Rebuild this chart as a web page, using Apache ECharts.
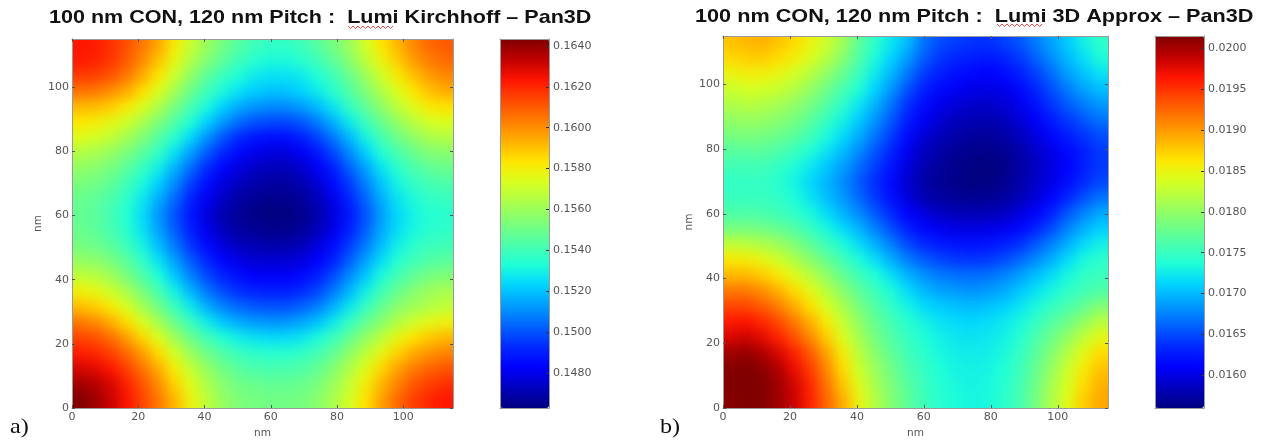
<!DOCTYPE html>
<html><head><meta charset="utf-8">
<style>html,body{margin:0;padding:0;background:#fff}#c{width:1267px;height:445px}</style>
<script src="https://cdn.jsdelivr.net/npm/echarts@6/dist/echarts.min.js"></script>
</head><body><div id="c"></div>
<script>
// cell centres in nm, read left to right and top to bottom
var cellX = [2.4,7.2,12,16.8,21.6,26.4,31.2,36,40.8,45.6,50.4,55.2,60,64.8,69.6,74.4,79.2,84,88.8,93.6,98.4,103.2,108,112.8];
var cellY = [112.8,108,103.2,98.4,93.6,88.8,84,79.2,74.4,69.6,64.8,60,55.2,50.4,45.6,40.8,36,31.2,26.4,21.6,16.8,12,7.2,2.4];
var cellHalf = 2.4;

// panel a, in units of 0.0001
var valuesA = [
[1623,1622,1618,1612,1604,1595,1582,1570,1560,1552,1545,1540,1537,1537,1540,1545,1552,1560,1572,1583,1592,1601,1607,1610],
[1622,1621,1617,1610,1601,1590,1577,1565,1555,1547,1540,1535,1532,1532,1535,1540,1547,1556,1567,1578,1588,1597,1603,1607],
[1616,1615,1611,1604,1594,1583,1570,1558,1547,1539,1533,1528,1526,1526,1528,1533,1540,1549,1560,1571,1581,1590,1597,1601],
[1605,1604,1600,1594,1585,1574,1562,1550,1540,1532,1526,1522,1520,1520,1523,1528,1535,1544,1554,1564,1574,1583,1590,1594],
[1592,1591,1588,1582,1574,1564,1553,1542,1532,1523,1516,1512,1510,1510,1513,1519,1527,1537,1547,1557,1567,1575,1582,1584],
[1583,1581,1577,1571,1563,1554,1544,1534,1523,1513,1505,1500,1498,1498,1501,1508,1517,1528,1539,1549,1558,1566,1572,1574],
[1575,1572,1568,1562,1554,1545,1535,1524,1512,1501,1493,1488,1486,1486,1490,1497,1507,1518,1530,1541,1550,1557,1563,1565],
[1565,1563,1559,1553,1546,1537,1526,1514,1502,1492,1485,1480,1478,1478,1481,1488,1498,1510,1522,1533,1542,1549,1554,1556],
[1558,1556,1552,1546,1538,1529,1517,1505,1493,1484,1478,1474,1472,1472,1475,1481,1490,1502,1514,1526,1535,1542,1547,1549],
[1553,1551,1547,1540,1532,1522,1510,1497,1486,1478,1473,1470,1468,1468,1471,1476,1485,1496,1508,1520,1530,1537,1541,1543],
[1549,1547,1543,1536,1527,1516,1504,1491,1481,1474,1469,1466,1465,1465,1467,1472,1480,1491,1503,1516,1526,1532,1537,1538],
[1548,1546,1541,1534,1525,1512,1500,1488,1478,1471,1467,1464,1463,1463,1465,1470,1478,1488,1500,1513,1524,1530,1534,1535],
[1549,1547,1542,1535,1526,1514,1502,1490,1480,1473,1468,1466,1465,1465,1467,1472,1480,1490,1502,1515,1525,1531,1535,1536],
[1552,1550,1546,1539,1530,1519,1507,1495,1485,1478,1473,1471,1470,1470,1472,1477,1485,1496,1507,1519,1529,1535,1539,1540],
[1559,1557,1553,1546,1537,1526,1514,1502,1492,1484,1479,1476,1476,1476,1478,1483,1491,1502,1514,1525,1534,1540,1544,1546],
[1568,1566,1561,1553,1544,1533,1521,1509,1499,1491,1486,1483,1482,1482,1485,1490,1499,1510,1521,1532,1541,1547,1552,1554],
[1580,1577,1571,1563,1553,1542,1530,1518,1507,1499,1494,1491,1490,1490,1493,1498,1507,1518,1529,1540,1549,1555,1560,1563],
[1591,1588,1582,1573,1562,1551,1539,1528,1517,1509,1504,1501,1500,1500,1503,1508,1517,1527,1538,1548,1556,1561,1565,1568],
[1604,1601,1594,1585,1574,1562,1550,1539,1529,1521,1516,1513,1512,1512,1515,1520,1528,1538,1548,1556,1565,1571,1576,1579],
[1614,1612,1606,1597,1586,1574,1561,1550,1541,1534,1529,1526,1525,1525,1527,1532,1539,1548,1558,1567,1577,1584,1589,1592],
[1622,1620,1615,1607,1597,1585,1572,1560,1551,1544,1539,1536,1535,1535,1537,1541,1548,1557,1567,1577,1587,1594,1599,1602],
[1630,1628,1623,1615,1605,1594,1581,1569,1559,1551,1546,1543,1542,1542,1544,1548,1555,1564,1575,1586,1596,1603,1608,1611],
[1638,1635,1630,1621,1611,1600,1587,1575,1564,1556,1551,1549,1548,1548,1549,1553,1560,1569,1580,1592,1602,1610,1615,1618],
[1643,1639,1632,1624,1614,1604,1592,1579,1568,1559,1554,1552,1551,1551,1552,1556,1563,1572,1584,1596,1607,1615,1620,1623]
];

// panel b, in units of 0.00001
var valuesB = [
[1880,1886,1888,1880,1868,1852,1832,1808,1772,1745,1722,1702,1670,1652,1645,1640,1638,1645,1655,1672,1690,1708,1728,1745],
[1870,1874,1876,1868,1856,1840,1820,1795,1765,1735,1712,1688,1660,1642,1633,1628,1625,1630,1642,1660,1680,1700,1718,1735],
[1850,1855,1855,1848,1836,1820,1800,1778,1752,1724,1700,1672,1645,1630,1620,1614,1612,1616,1628,1645,1665,1688,1705,1720],
[1832,1836,1836,1830,1818,1802,1782,1760,1738,1712,1685,1655,1630,1616,1607,1602,1600,1604,1615,1632,1652,1672,1690,1702],
[1815,1820,1818,1810,1800,1786,1766,1745,1722,1698,1670,1640,1618,1604,1596,1591,1590,1594,1604,1620,1640,1658,1672,1685],
[1800,1803,1802,1795,1785,1770,1750,1730,1708,1684,1657,1628,1607,1594,1586,1581,1580,1584,1594,1608,1626,1642,1656,1668],
[1785,1788,1786,1780,1770,1755,1735,1716,1695,1670,1645,1617,1596,1584,1576,1572,1571,1575,1585,1598,1613,1628,1640,1652],
[1768,1770,1770,1763,1752,1738,1720,1702,1680,1656,1632,1606,1587,1576,1569,1565,1564,1567,1577,1589,1602,1615,1628,1642],
[1755,1755,1755,1748,1736,1722,1706,1688,1666,1645,1622,1598,1580,1571,1565,1561,1560,1563,1574,1586,1598,1612,1628,1642],
[1747,1748,1748,1742,1730,1714,1698,1680,1658,1637,1616,1592,1577,1569,1564,1561,1561,1565,1576,1588,1601,1617,1634,1648],
[1750,1750,1750,1746,1735,1720,1702,1685,1664,1642,1620,1597,1581,1573,1569,1567,1568,1572,1582,1595,1612,1632,1652,1668],
[1763,1762,1760,1755,1745,1733,1715,1697,1678,1657,1634,1612,1597,1588,1583,1581,1582,1586,1596,1610,1630,1655,1675,1692],
[1785,1785,1782,1775,1765,1750,1732,1715,1697,1675,1652,1630,1614,1605,1600,1598,1600,1605,1614,1630,1650,1675,1695,1710],
[1825,1822,1815,1805,1790,1772,1753,1735,1716,1696,1674,1650,1635,1626,1621,1620,1622,1628,1638,1655,1675,1695,1715,1728],
[1860,1856,1848,1832,1815,1795,1775,1755,1735,1717,1696,1674,1658,1648,1642,1640,1642,1650,1662,1678,1695,1715,1733,1743],
[1885,1885,1875,1860,1842,1820,1798,1775,1755,1737,1718,1698,1682,1672,1667,1665,1667,1675,1687,1702,1716,1732,1746,1752],
[1915,1915,1905,1888,1868,1845,1820,1795,1772,1752,1735,1716,1700,1690,1685,1682,1685,1692,1705,1718,1732,1745,1755,1763],
[1940,1940,1930,1912,1890,1866,1838,1812,1786,1765,1747,1730,1716,1708,1703,1700,1703,1710,1720,1733,1748,1760,1775,1790],
[1962,1965,1955,1938,1915,1888,1858,1828,1800,1776,1757,1742,1730,1720,1715,1713,1716,1722,1732,1748,1765,1780,1800,1820],
[1980,1985,1975,1958,1935,1908,1875,1840,1810,1785,1765,1750,1738,1728,1722,1720,1723,1728,1740,1760,1780,1800,1825,1845],
[2002,2005,1997,1980,1958,1930,1895,1857,1822,1795,1773,1756,1743,1733,1727,1725,1727,1733,1747,1768,1792,1818,1845,1868],
[2012,2015,2010,1995,1972,1945,1908,1868,1832,1805,1782,1762,1748,1737,1730,1728,1730,1737,1752,1775,1802,1830,1858,1880],
[2015,2015,2013,2002,1982,1955,1918,1878,1842,1812,1788,1768,1752,1740,1733,1730,1732,1740,1755,1780,1810,1838,1868,1888],
[2012,2015,2013,2003,1985,1958,1925,1890,1850,1818,1793,1772,1755,1742,1735,1731,1733,1742,1758,1784,1815,1843,1875,1893]
];

var xyTicks = [0,20,40,60,80,100];
var barTicksA = [0.1480,0.1500,0.1520,0.1540,0.1560,0.1580,0.1600,0.1620,0.1640];
var barTicksB = [0.0160,0.0165,0.0170,0.0175,0.0180,0.0185,0.0190,0.0195,0.0200];
var rangeA = [0.14629,0.16434];
var rangeB = [0.01560,0.02015];
var unitA = 1e-4, unitB = 1e-5;
var titleA = '100 nm CON, 120 nm Pitch :  Lumi Kirchhoff \u2013 Pan3D';
var titleB = '100 nm CON, 120 nm Pitch :  Lumi 3D Approx \u2013 Pan3D';
var axisName = 'nm';
var jet = ['#00007f','#0000bf','#0000ff','#002aff','#0063ff','#009cff','#00d4ff','#20ffd7','#4dffaa','#7bff7b','#aaff4d','#d7ff20','#ffe600','#ffb100','#ff7d00','#ff4900','#ff1400','#c00000','#7f0000'];

function cells(rows, unit) {
  var out = [];
  rows.forEach(function (r, j) { r.forEach(function (v, i) { out.push([cellX[i], cellY[j], v * unit]); }); });
  return out;
}
function renderCell(params, api) {
  var x = api.value(0), y = api.value(1);
  var p0 = api.coord([x - cellHalf, y + cellHalf]);
  var p1 = api.coord([x + cellHalf, y - cellHalf]);
  var l = p0[0] - 1, t = p0[1] - 1, r = p1[0] + 1, b = p1[1] + 1;
  if (x === cellX[0]) l -= 24;
  if (x === cellX[cellX.length - 1]) r += 24;
  if (y === cellY[0]) t -= 24;
  if (y === cellY[cellY.length - 1]) b += 24;
  return { type: 'rect', shape: { x: l, y: t, width: r - l, height: b - t }, style: { fill: api.visual('color') } };
}

var FRAME = '#9a9a9a', TXT = '#555', TICK = '#555', F = 'DejaVu Sans';
var grids = [
  { left: 72, top: 39, width: 381, height: 369 },
  { left: 723, top: 36, width: 385, height: 372 },
  { left: 500, top: 39, width: 49, height: 369 },
  { left: 1155, top: 36, width: 49, height: 372 }
];
grids.forEach(function (g) { g.zlevel = 1; g.z = 5; g.show = false; });

function xyX(gi, pos) {
  var main = pos === 'bottom';
  return {
    type: 'value', gridIndex: gi, min: 0, max: 115, position: pos, zlevel: 1, z: 6,
    name: main ? axisName : '', nameLocation: 'middle', nameGap: 17,
    nameTextStyle: { color: TXT, fontSize: 10.5, fontFamily: F },
    splitLine: { show: false },
    axisLine: { show: true, onZero: false, lineStyle: { color: FRAME, width: 1 } },
    axisTick: { show: true, inside: true, length: 3, lineStyle: { color: TICK }, customValues: xyTicks },
    axisLabel: { show: main, margin: 4, color: TXT, fontSize: 11, fontFamily: F, customValues: xyTicks, formatter: function (v) { return String(v); } }
  };
}
function xyY(gi, pos) {
  var main = pos === 'left';
  return {
    type: 'value', gridIndex: gi, min: 0, max: 115, position: pos, zlevel: 1, z: 6,
    name: main ? axisName : '', nameLocation: 'middle', nameGap: 27, nameRotate: 90,
    nameTextStyle: { color: TXT, fontSize: 10.5, fontFamily: F },
    splitLine: { show: false },
    axisLine: { show: true, onZero: false, lineStyle: { color: FRAME, width: 1 } },
    axisTick: { show: true, inside: true, length: 3, lineStyle: { color: TICK }, customValues: xyTicks },
    axisLabel: { show: main, margin: 3, color: TXT, fontSize: 11, fontFamily: F, customValues: xyTicks, formatter: function (v) { return String(v); } }
  };
}
function barX(gi, pos) {
  return {
    type: 'value', gridIndex: gi, min: 0, max: 1, position: pos, zlevel: 1, z: 6,
    splitLine: { show: false }, axisTick: { show: false }, axisLabel: { show: false },
    axisLine: { show: true, onZero: false, lineStyle: { color: FRAME, width: 1 } }
  };
}
function barY(gi, range, ticks, pos) {
  var main = pos === 'right';
  return {
    type: 'value', gridIndex: gi, min: range[0], max: range[1], position: pos, zlevel: 1, z: 6,
    splitLine: { show: false },
    axisLine: { show: true, onZero: false, lineStyle: { color: FRAME, width: 1 } },
    axisTick: { show: main, inside: true, length: 3, lineStyle: { color: '#333' }, customValues: ticks },
    axisLabel: { show: main, margin: 4, color: TXT, fontSize: 11, fontFamily: F, customValues: ticks, formatter: function (v) { return v.toFixed(4); } }
  };
}
function squiggle(x0, x1, y) {
  var pts = [], i = 0;
  for (var x = x0; x <= x1; x += 2.5) { pts.push([x, y + (i++ % 2 ? 1.5 : -1)]); }
  return { type: 'polyline', zlevel: 1, z: 20, shape: { points: pts }, style: { stroke: '#ef4d4d', lineWidth: 1, fill: null } };
}
function titleText(txt, x, y, sx) {
  return { type: 'text', zlevel: 1, z: 20, x: x, y: y, scaleX: sx,
    style: { text: txt, fill: '#111', font: 'bold 19px "Liberation Sans"' } };
}
function panelLetter(txt, x) {
  return { type: 'text', zlevel: 1, z: 20, x: x, y: 417, scaleX: 1.15,
    style: { text: txt, fill: '#111', font: '21px "Liberation Serif"' } };
}

var chart = echarts.init(document.getElementById('c'), null, { renderer: 'canvas' });
chart.setOption({
  animation: false,
  grid: grids,
  xAxis: [xyX(0, 'bottom'), xyX(0, 'top'), xyX(1, 'bottom'), xyX(1, 'top'), barX(2, 'bottom'), barX(2, 'top'), barX(3, 'bottom'), barX(3, 'top')],
  yAxis: [xyY(0, 'left'), xyY(0, 'right'), xyY(1, 'left'), xyY(1, 'right'),
    barY(2, rangeA, barTicksA, 'right'), barY(2, rangeA, barTicksA, 'left'),
    barY(3, rangeB, barTicksB, 'right'), barY(3, rangeB, barTicksB, 'left')],
  visualMap: [
    { type: 'continuous', seriesIndex: 0, dimension: 2, min: rangeA[0], max: rangeA[1], inRange: { color: jet },
      left: 500, top: 39, itemWidth: 49, itemHeight: 369, padding: 0, showLabel: false, text: null, calculable: false, hoverLink: false, zlevel: 1, z: 4 },
    { type: 'continuous', seriesIndex: 1, dimension: 2, min: rangeB[0], max: rangeB[1], inRange: { color: jet },
      left: 1155, top: 36, itemWidth: 49, itemHeight: 372, padding: 0, showLabel: false, text: null, calculable: false, hoverLink: false, zlevel: 1, z: 4 }
  ],
  series: [
    { type: 'custom', name: 'a', xAxisIndex: 0, yAxisIndex: 0, data: cells(valuesA, unitA), renderItem: renderCell, encode: { x: 0, y: 1 }, silent: true, zlevel: 0 },
    { type: 'custom', name: 'b', xAxisIndex: 2, yAxisIndex: 2, data: cells(valuesB, unitB), renderItem: renderCell, encode: { x: 0, y: 1 }, silent: true, zlevel: 0 }
  ],
  graphic: { elements: [
    titleText(titleA, 49, 8, 1.134), titleText(titleB, 695, 7, 1.14),
    squiggle(348, 393, 27), squiggle(997, 1043, 25),
    panelLetter('a)', 10), panelLetter('b)', 660)
  ] }
});

// the reference field is continuous: soften the cell layer and keep it inside the two plot frames
try {
  var d = chart.getZr().painter.getLayer(0).dom;
  d.style.filter = 'blur(6px)';
  d.style.clipPath = "path('M72 39H453V408H72Z M723 36H1108V408H723Z')";
} catch (e) {}
</script></body></html>
